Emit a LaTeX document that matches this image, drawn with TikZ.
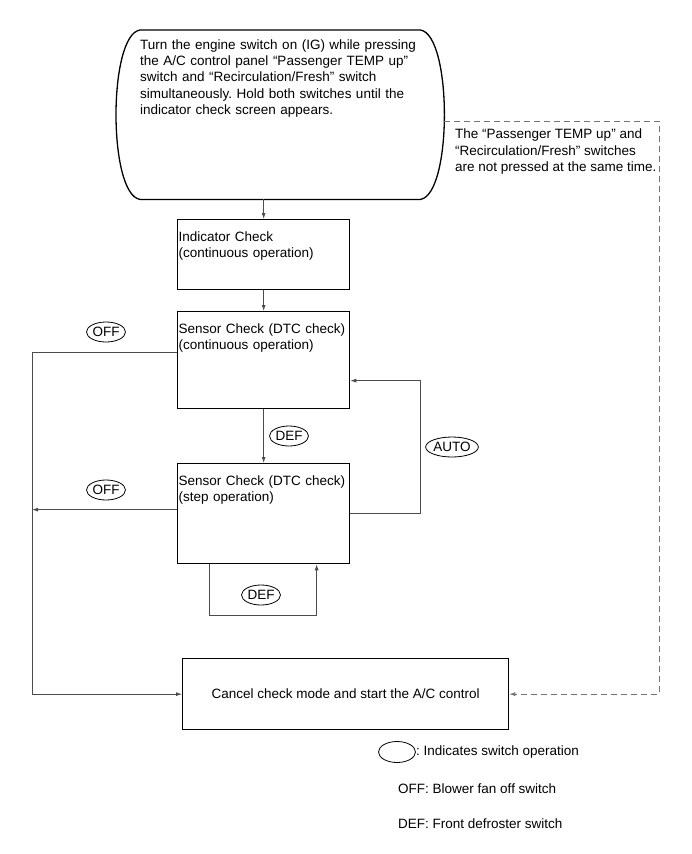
\documentclass[tikz,border=0pt]{standalone}
\usepackage{fontspec}
\setmainfont{Liberation Sans}
\usetikzlibrary{arrows.meta,shapes.geometric}
\frenchspacing

\begin{document}
\begin{tikzpicture}[x=1pt,y=-1pt,font=\fontsize{13.5}{16.3}\selectfont,
		box/.style={draw,line width=1.3pt,anchor=north west,inner xsep=1pt,inner ysep=4pt,text width=170pt,align=left,text height=18pt},
		switch/.style={draw,ellipse,line width=0.8pt,inner sep=0pt,minimum width=39pt,minimum height=20pt},
		conn/.style={draw=black!70,line width=0.8pt},
		arr/.style={conn,-{Latex[length=6pt,width=4pt]}},
		dashline/.style={arr,draw=black!55,dash pattern=on 6pt off 4pt}]
		\useasboundingbox (0,0) rectangle (691,854);
		
		\node[anchor=north west,inner sep=0pt,text width=280pt,align=left,text height=19pt,text depth=150pt] (start) at (140,30){Turn the engine switch on (IG) while pressing\\the A/C control panel “Passenger TEMP up”\\switch and “Recirculation/Fresh” switch\\simultaneously. Hold both switches until the\\indicator check screen appears.};
		\draw[line width=1.3pt] (start.north west) -- (start.north east) .. controls +(32,5) and +(32,-5) .. (start.south east) -- (start.south west) .. controls +(-32,-5) and +(-32,5) .. (start.north west);
		
		\node[box,text depth=44pt] (ind) at (177,219){Indicator Check\\(continuous operation)};
		\node[box,text depth=71pt] (cont) at (177,311){Sensor Check (DTC check)\\(continuous operation)};
		\node[box,text depth=74pt] (step) at (177,463){Sensor Check (DTC check)\\(step operation)};
		\node[draw,line width=1.3pt,anchor=north west,minimum width=326pt,minimum height=71pt] (cancel) at (182,658){Cancel check mode and start the A/C control};
		
		\node[switch] (off1) at (106,332){OFF};
		\node[switch] (off2) at (106,490){OFF};
		\node[switch] (def1) at (289,436){DEF};
		\node[switch,minimum width=51pt] (auto) at (452,447){AUTO};
		\node[switch] (def2) at (261,595){DEF};
		
		\node[anchor=north west,inner sep=0pt,align=left] (note) at (455,129){The “Passenger TEMP up” and\\“Recirculation/Fresh” switches\\are not pressed at the same time.};
		
		\coordinate (lft) at (32,0);
		\coordinate (ret) at (444,121);
		\coordinate (rgt) at (659,121);
		\coordinate (offa) at ([yshift=7.5pt]cont.west);
		\coordinate (offb) at ([yshift=4pt]step.west);
		
		\draw[arr] (start.south -| ind.north) -- (ind.north);
		\draw[arr] (ind.south) -- (cont.north);
		\draw[arr] (cont.south) -- (step.north);
		\draw[arr] (offa) -| (lft |- cancel.west) -- (cancel.west);
		\draw[arr] (offb) -- (lft |- offb);
		\draw[arr] (step.east) -- ++(70,0) |- ([yshift=-20.5pt]cont.east);
		\draw[arr] ([xshift=-54pt]step.south) -- ++(0,51) -| ([xshift=53pt]step.south);
		\draw[dashline] (ret) -- (rgt) |- (cancel.east);
		
		\node[switch,minimum width=37pt,minimum height=21pt] (legend) at (397,752){};
		\node[anchor=west,inner sep=0pt] (legendtext) at (legend.east){: Indicates switch operation};
		\node[anchor=west,inner sep=0pt] (offtext) at (398,789){OFF: Blower fan off switch};
		\node[anchor=west,inner sep=0pt] (deftext) at (398,824){DEF: Front defroster switch};
	\end{tikzpicture}
\end{document}
